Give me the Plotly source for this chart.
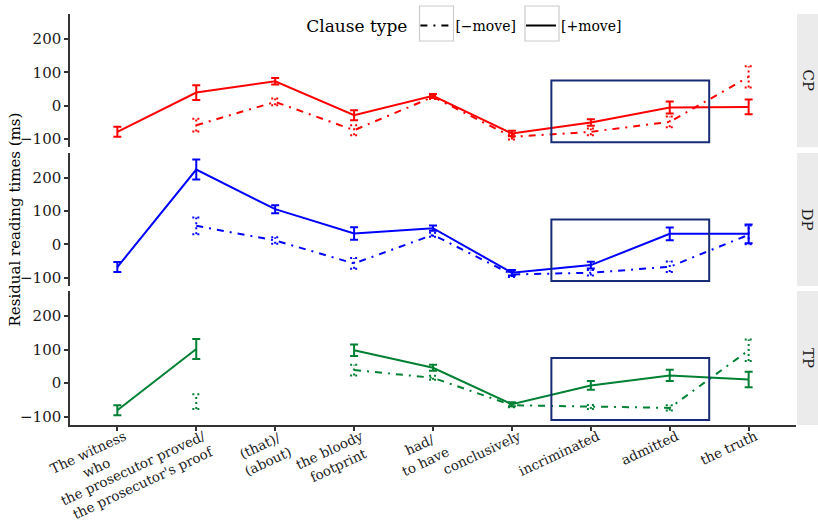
import plotly.graph_objects as go
from plotly.subplots import make_subplots

# ---------------- data ----------------
NB = "\u00a0"
categories = ["The witness<br>who" + NB * 6,
              "the prosecutor proved/<br>the prosecutor's proof",
              "(that)/" + NB + "<br>(about)",
              "the bloody<br>footprint" + NB,
              "had/" + NB * 2 + "<br>to have",
              "conclusively",
              "incriminated",
              "admitted",
              "the truth"]
positions = list(range(len(categories)))

panels = ["CP", "DP", "TP"]

CP_plus = [-79, 39, 73, -29, 29, -84, -51, -6, -4]
CP_plus_se = [15, 22, 10, 15, 6, 8, 10, 18, 22]
CP_minus = [None, -59, 11, -74, 26, -94, -79, -49, 86]
CP_minus_se = [None, 19, 10, 15, 6, 8, 10, 16, 32]

DP_plus = [-68, 225, 106, 33, 49, -85, -62, 32, 32]
DP_plus_se = [15, 30, 12, 19, 8, 8, 10, 19, 28]
DP_minus = [None, 56, 12, -57, 29, -90, -85, -67, 29]
DP_minus_se = [None, 25, 10, 16, 6, 8, 8, 16, 28]

TP_plus = [-81, 102, None, 98, 46, -63, -7, 23, 11]
TP_plus_se = [15, 30, None, 17, 9, 6, 13, 17, 23]
TP_minus = [None, -55, None, 39, 16, -66, -71, -74, 98]
TP_minus_se = [None, 22, None, 16, 6, 6, 6, 8, 32]

highlight_x = [5.5, 7.5]
highlight_y = [-110, 75]

y_ticks = [-100, 0, 100, 200]
colors = {"CP": "#FF0000", "DP": "#0000FF", "TP": "#008033"}
series = {
    "CP": (CP_plus, CP_plus_se, CP_minus, CP_minus_se),
    "DP": (DP_plus, DP_plus_se, DP_minus, DP_minus_se),
    "TP": (TP_plus, TP_plus_se, TP_minus, TP_minus_se),
}
domains = {"CP": [0.676, 1.0], "DP": [0.338, 0.662], "TP": [0.0, 0.326]}

FONT = "DejaVu Serif"
AX = "#333333"
DASHDOT = "7px,6px,2px,6px"
cap = 0.05

fig = make_subplots(rows=3, cols=1, shared_xaxes=True, vertical_spacing=0.013)

for r, p in enumerate(panels, start=1):
    plus, plus_se, minus, minus_se = series[p]
    col = colors[p]
    fig.add_trace(go.Scatter(
        x=positions, y=plus, mode="lines", line=dict(color=col, width=2),
        error_y=dict(type="data", array=[s if s is not None else 0 for s in plus_se],
                     color=col, thickness=2, width=4, visible=True),
        showlegend=False, hoverinfo="skip"), row=r, col=1)
    fig.add_trace(go.Scatter(
        x=positions, y=minus, mode="lines",
        line=dict(color=col, width=2, dash=DASHDOT),
        connectgaps=False, showlegend=False, hoverinfo="skip"), row=r, col=1)
    ex, ey = [], []
    for xi, m, s in zip(positions, minus, minus_se):
        if m is None:
            continue
        ex += [xi, xi, None, xi - cap, xi + cap, None, xi - cap, xi + cap, None]
        ey += [m - s, m + s, None, m - s, m - s, None, m + s, m + s, None]
    fig.add_trace(go.Scatter(
        x=ex, y=ey, mode="lines", line=dict(color=col, width=2, dash="2px,3px"),
        showlegend=False, hoverinfo="skip"), row=r, col=1)
    yref = "y" if r == 1 else f"y{r}"
    xref = "x" if r == 1 else f"x{r}"
    fig.add_shape(type="rect", xref=xref, yref=yref,
                  x0=highlight_x[0], x1=highlight_x[1],
                  y0=highlight_y[0], y1=highlight_y[1],
                  line=dict(color="#172B77", width=2), fillcolor="rgba(0,0,0,0)")
    fig.add_shape(type="rect", xref="paper", yref=f"{yref} domain",
                  x0=1.0014, x1=1.0303, y0=0, y1=1,
                  fillcolor="#EBEBEB", line=dict(width=0), layer="below")
    fig.add_annotation(text=p, xref="paper", yref=f"{yref} domain",
                       x=1.0165, y=0.5, xanchor="center", yanchor="middle",
                       showarrow=False, textangle=90,
                       font=dict(family=FONT, size=15, color="#1a1a1a"))
    fig.update_yaxes(domain=domains[p], row=r, col=1)

# legend key frames (decoration)
for kx0, kx1 in [(0.4814, 0.5282), (0.6267, 0.6735)]:
    fig.add_shape(type="rect", xref="paper", yref="paper", x0=kx0, x1=kx1,
                  y0=0.9343, y1=1.0195, line=dict(color="#CCCCCC", width=1.2),
                  fillcolor="rgba(0,0,0,0)")

fig.add_trace(go.Scatter(x=[None], y=[None], mode="lines", name="[\u2212move]",
                         line=dict(color="black", width=2, dash=DASHDOT)), row=1, col=1)
fig.add_trace(go.Scatter(x=[None], y=[None], mode="lines", name="[+move]",
                         line=dict(color="black", width=2)), row=1, col=1)

for r in range(1, 4):
    fig.update_yaxes(range=[-125, 275], tickvals=y_ticks, showline=True, linecolor=AX,
                     linewidth=1.5, ticks="outside", ticklen=4, tickcolor=AX, tickwidth=1.5,
                     showgrid=False, zeroline=False, automargin=False,
                     tickfont=dict(family=FONT, size=15, color="#1a1a1a"), row=r, col=1)
    fig.update_xaxes(range=[-0.6, 8.6], tickvals=positions, ticktext=categories,
                     showgrid=False, zeroline=False, automargin=False, row=r, col=1)
fig.update_xaxes(showline=True, linecolor=AX, linewidth=1.5, ticks="outside", ticklen=4,
                 tickcolor=AX, tickwidth=1.5, tickangle=-25, ticklabelstandoff=-7,
                 ticklabelshift=7,
                 tickfont=dict(family=FONT, size=13.5, color="#1a1a1a"), row=3, col=1)

fig.add_annotation(text="Residual reading times (ms)", xref="paper", yref="paper",
                   x=-0.0758, y=0.5, xanchor="center", yanchor="middle",
                   showarrow=False, textangle=-90,
                   font=dict(family=FONT, size=15, color="black"))

fig.update_layout(
    width=818, height=524,
    margin=dict(l=70, r=22, t=14, b=99, autoexpand=False),
    plot_bgcolor="white", paper_bgcolor="white",
    font=dict(family=FONT, size=14, color="black"),
    legend=dict(orientation="h", x=0.3227, xanchor="left", y=1.0097, yanchor="top",
                title=dict(text="Clause type", side="left"),
                bgcolor="rgba(0,0,0,0)", font=dict(family=FONT, size=14)),
)

fig.write_html("out.html", config={"displayModeBar": False},
               post_script="document.body.style.margin='0';document.body.style.overflow='hidden';")
